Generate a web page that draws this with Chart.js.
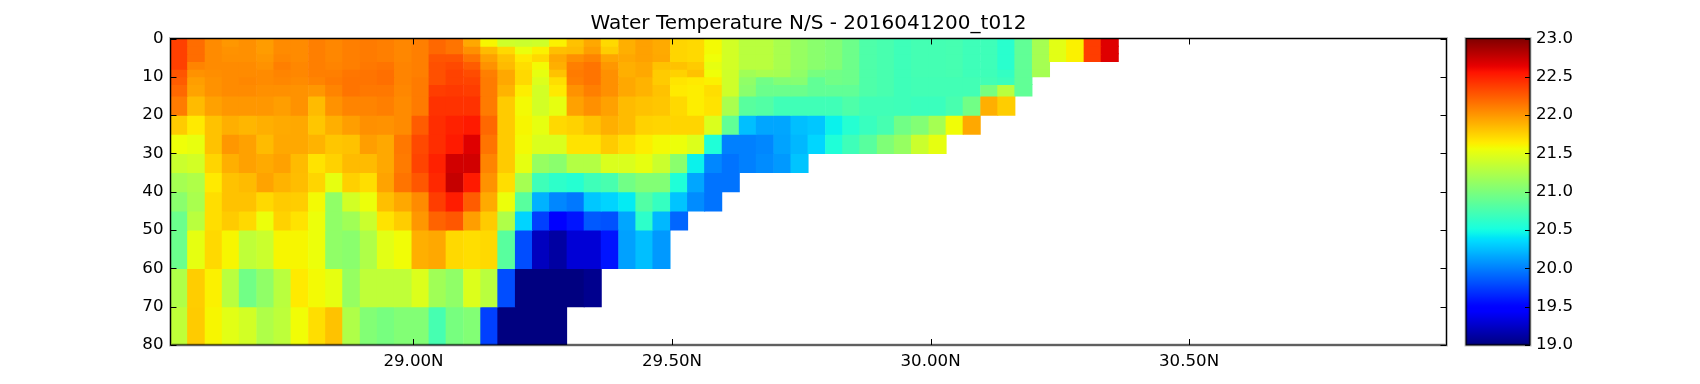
<!DOCTYPE html>
<html>
<head>
<meta charset="utf-8">
<title>Water Temperature N/S</title>
<script src="https://cdn.jsdelivr.net/npm/chart.js@4/dist/chart.umd.min.js"></script>
<style>
  html, body { margin: 0; padding: 0; background: #fff; }
  canvas { position: absolute; left: 0; top: 0; }
</style>
</head>
<body>
<canvas id="mainChart" width="1700" height="384"></canvas>
<canvas id="barChart" width="1700" height="384"></canvas>
<script>
const chartTitle = 'Water Temperature N/S - 2016041200_t012';

// left edge of every column, degrees north, one every 1/30 degree
const latEdges = [
  28.53, 28.563, 28.597, 28.63, 28.663, 28.697, 28.73, 28.763, 28.797, 28.83,
  28.863, 28.897, 28.93, 28.963, 28.997, 29.03, 29.063, 29.097, 29.13, 29.163,
  29.197, 29.23, 29.263, 29.297, 29.33, 29.363, 29.397, 29.43, 29.463, 29.497,
  29.53, 29.563, 29.597, 29.63, 29.663, 29.697, 29.73, 29.763, 29.797, 29.83,
  29.863, 29.897, 29.93, 29.963, 29.997, 30.03, 30.063, 30.097, 30.13, 30.163,
  30.197, 30.23, 30.263, 30.297, 30.33
];
const depthEdges = [0, 2, 4, 6, 8, 10, 12, 15, 20, 25, 30, 35, 40, 45, 50, 60, 70, 80];

const temp00 = [22.37,22.18,22.05,22.0,22.03,21.98,22.05,22.05,22.1,22.07,22.1,22.12,22.1,22.07,22.1,22.2,22.15,21.93,21.6,21.4,21.38,21.4,21.62,21.82,21.93,21.72,21.9,21.96,21.92,21.74,21.72,21.58,21.42,21.3,21.3,21.22,21.13,21.07,21.03,20.93,20.78,20.75,20.7,20.73,20.73,20.74,20.7,20.7,20.6,20.87,21.2,21.5,21.62,22.38,22.67];
const temp02 = [22.37,22.18,22.05,22.02,22.03,21.98,22.05,22.05,22.1,22.07,22.1,22.12,22.1,22.07,22.1,22.2,22.15,22.03,21.85,21.72,21.54,21.62,21.83,21.85,21.97,21.77,21.9,21.96,21.92,21.74,21.72,21.58,21.42,21.3,21.3,21.22,21.13,21.07,21.03,20.93,20.78,20.75,20.7,20.73,20.73,20.74,20.7,20.7,20.6,20.87,21.2,21.5,21.62,22.38,22.67];
const temp04 = [22.37,22.18,22.05,22.03,22.03,22.0,22.07,22.05,22.1,22.07,22.1,22.12,22.1,22.07,22.1,22.28,22.28,22.15,21.96,21.82,21.65,21.72,21.93,22.03,22.08,21.94,21.93,21.96,21.93,21.74,21.72,21.56,21.42,21.3,21.3,21.22,21.13,21.07,21.03,20.93,20.78,20.75,20.7,20.73,20.73,20.74,20.7,20.7,20.6,20.87,21.2,21.5,21.62,22.38,22.67];
const temp06 = [22.37,22.08,22.05,22.05,22.05,22.02,22.1,22.07,22.1,22.08,22.1,22.13,22.15,22.08,22.1,22.3,22.33,22.25,22.02,21.85,21.7,21.58,21.9,22.1,22.15,22.0,21.9,21.93,21.82,21.82,21.78,21.52,21.42,21.3,21.3,21.22,21.13,21.07,21.03,20.93,20.78,20.75,20.7,20.73,20.73,20.74,20.7,20.7,20.6,20.87,21.2];
const temp08 = [22.28,22.02,22.04,22.05,22.05,22.05,22.08,22.07,22.1,22.1,22.14,22.15,22.17,22.08,22.1,22.3,22.36,22.32,22.1,21.93,21.72,21.52,21.82,22.12,22.15,22.03,21.9,21.93,21.78,21.75,21.82,21.56,21.4,21.18,21.22,21.2,21.1,20.98,20.95,20.93,20.78,20.75,20.7,20.73,20.73,20.74,20.7,20.7,20.65,20.87,21.2];
const temp10 = [22.25,21.97,22.02,22.05,22.07,22.05,22.07,22.05,22.08,22.12,22.15,22.15,22.17,22.08,22.12,22.3,22.36,22.35,22.12,21.93,21.72,21.47,21.7,22.1,22.15,22.03,21.93,21.88,21.78,21.67,21.65,21.62,21.4,21.1,20.95,21.03,21.05,20.87,20.95,20.93,20.78,20.75,20.7,20.72,20.72,20.72,20.72,20.72,20.68,20.87];
const temp12 = [22.2,21.95,22.02,22.05,22.05,22.03,22.03,22.02,22.0,22.08,22.15,22.13,22.13,22.07,22.12,22.38,22.4,22.38,22.12,21.88,21.63,21.42,21.65,22.02,22.1,22.03,21.93,21.88,21.82,21.65,21.63,21.7,21.4,21.07,20.92,20.92,20.92,20.87,20.87,20.87,20.78,20.75,20.7,20.72,20.72,20.72,20.72,20.98,21.3,20.87];
const temp15 = [22.12,21.85,21.96,22.0,22.0,22.0,21.97,22.02,21.85,22.02,22.08,22.08,22.1,22.05,22.12,22.43,22.43,22.43,22.12,21.78,21.58,21.42,21.52,21.96,22.03,21.96,21.85,21.82,21.8,21.72,21.63,21.68,21.22,20.83,20.8,20.71,20.71,20.71,20.71,20.78,20.71,20.71,20.7,20.68,20.68,20.75,20.95,21.9,21.77];
const temp20 = [21.78,21.65,21.82,21.9,21.87,21.9,21.92,21.93,21.8,21.9,21.97,22.03,22.02,22.05,22.25,22.45,22.5,22.53,22.2,21.78,21.6,21.52,21.72,21.75,21.82,21.9,21.85,21.75,21.74,21.74,21.74,21.46,20.87,20.25,20.15,20.15,20.25,20.28,20.45,20.58,20.67,20.74,20.95,21.03,21.2,21.57,21.93];
const temp25 = [21.56,21.53,21.82,22.0,21.96,21.85,21.93,21.93,21.88,21.8,21.82,21.97,21.93,22.13,22.33,22.45,22.53,22.67,22.15,21.78,21.58,21.46,21.46,21.68,21.68,21.78,21.7,21.63,21.58,21.55,21.47,20.55,20.0,20.0,20.03,20.14,20.22,20.34,20.55,20.7,20.83,21.02,21.13,21.38,21.52];
const temp30 = [21.38,21.42,21.74,21.9,21.96,21.92,21.96,21.85,21.68,21.75,21.85,21.85,21.93,22.12,22.35,22.5,22.72,22.72,22.08,21.78,21.52,21.13,21.07,21.27,21.27,21.46,21.46,21.52,21.38,21.07,20.45,20.03,19.95,20.0,20.05,20.1,20.27];
const temp35 = [21.2,21.25,21.65,21.82,21.85,21.95,21.88,21.84,21.74,21.52,21.76,21.7,21.95,22.15,22.27,22.47,22.76,22.53,22.02,21.7,21.2,20.7,20.62,20.58,20.7,20.75,20.95,21.03,21.03,20.55,20.15,19.95,19.95];
const temp40 = [21.07,21.22,21.7,21.82,21.82,21.72,21.78,21.77,21.58,21.1,21.42,21.55,21.83,21.93,22.05,22.38,22.52,22.25,21.92,21.55,20.83,20.2,20.03,19.97,20.28,20.33,20.42,20.8,20.66,20.27,20.05,19.95];
const temp45 = [20.92,21.3,21.7,21.78,21.72,21.55,21.75,21.68,21.55,21.1,21.18,21.38,21.68,21.77,22.0,22.22,22.27,21.97,21.78,21.25,20.33,19.75,19.5,19.58,19.85,19.82,20.15,20.62,20.22,19.9];
const temp50 = [20.92,21.52,21.72,21.6,21.33,21.38,21.6,21.6,21.55,21.1,21.07,21.25,21.5,21.57,21.9,21.93,21.72,21.7,21.72,20.83,19.8,19.22,19.12,19.3,19.3,19.58,20.13,20.25,20.1];
const temp60 = [21.25,21.77,21.62,21.3,20.95,21.1,21.3,21.65,21.58,21.52,21.13,21.33,21.33,21.33,21.47,21.18,21.1,21.47,21.3,19.8,18.9,18.9,18.9,18.9,19.05];
const temp70 = [21.33,21.78,21.6,21.5,21.42,21.25,21.32,21.57,21.7,21.82,21.25,21.03,20.98,21.03,21.03,20.74,20.98,21.03,19.75,18.9,18.9,18.9,18.9];
const tempRows = [temp00, temp02, temp04, temp06, temp08, temp10, temp12, temp15, temp20, temp25, temp30, temp35, temp40, temp45, temp50, temp60, temp70];

const latTicks = [29, 29.5, 30, 30.5];
const depthTicks = [0, 10, 20, 30, 40, 50, 60, 70, 80];
const tempTicks = [19, 19.5, 20, 20.5, 21, 21.5, 22, 22.5, 23];
const tempMin = 19;
const tempMax = 23;

const tickFont = { family: '"DejaVu Sans"', size: 16.67 };
const cellWidth = 1 / 30;

// matplotlib's old default colormap
function seg(points, t) {
  for (let i = 1; i < points.length; i++) {
    if (t <= points[i][0]) {
      const a = points[i - 1], b = points[i];
      return a[1] + (b[1] - a[1]) * (t - a[0]) / (b[0] - a[0]);
    }
  }
  return points[points.length - 1][1];
}
function jet(t) {
  t = Math.min(1, Math.max(0, t));
  const r = seg([[0, 0], [0.35, 0], [0.66, 1], [0.89, 1], [1, 0.5]], t);
  const g = seg([[0, 0], [0.125, 0], [0.375, 1], [0.64, 1], [0.91, 0], [1, 0]], t);
  const b = seg([[0, 0.5], [0.11, 1], [0.34, 1], [0.65, 0], [1, 0]], t);
  return `rgb(${Math.round(r * 255)},${Math.round(g * 255)},${Math.round(b * 255)})`;
}
function tempColor(v) {
  return jet((v - tempMin) / (tempMax - tempMin));
}

function strokeFrame(ctx, a) {
  ctx.strokeStyle = 'rgba(0,0,0,0.25)';
  ctx.lineWidth = 3;
  ctx.strokeRect(a.left, a.top, a.right - a.left, a.bottom - a.top);
  ctx.strokeStyle = '#000';
  ctx.lineWidth = 1;
  ctx.strokeRect(a.left, a.top, a.right - a.left, a.bottom - a.top);
}

// frame and inward ticks, the way the old matplotlib style has them
const framePlugin = {
  id: 'frame',
  afterDatasetsDraw(chart) {
    const { ctx, chartArea: a, scales } = chart;
    ctx.save();
    ctx.strokeStyle = '#000';
    ctx.lineWidth = 1;
    ctx.beginPath();
    for (const id in scales) {
      const s = scales[id];
      for (const t of s.ticks) {
        const p = s.getPixelForValue(t.value);
        if (s.axis === 'x') {
          const x = Math.round(p) + 0.5;
          ctx.moveTo(x, a.bottom); ctx.lineTo(x, a.bottom - 6);
          ctx.moveTo(x, a.top); ctx.lineTo(x, a.top + 6);
        } else {
          const y = Math.round(p) + 0.5;
          ctx.moveTo(a.left, y); ctx.lineTo(a.left + 6, y);
          ctx.moveTo(a.right, y); ctx.lineTo(a.right - 6, y);
        }
      }
    }
    ctx.stroke();
    strokeFrame(ctx, a);
    ctx.restore();
  }
};

const cellDatasets = tempRows.map((temps, r) => ({
  label: depthEdges[r] + '-' + depthEdges[r + 1],
  data: temps.map((v, i) => ({ x: latEdges[i] + cellWidth / 2, y: [depthEdges[r], depthEdges[r + 1]], temp: v })),
  backgroundColor: c => tempColor(c.raw.temp),
  borderWidth: 0,
  inflateAmount: 0.5,
  grouped: false,
  barPercentage: 1,
  categoryPercentage: 1
}));

new Chart(document.getElementById('mainChart'), {
  type: 'bar',
  data: { datasets: cellDatasets },
  options: {
    responsive: false,
    animation: false,
    layout: { padding: { left: 110.5, right: 253.5, top: 0, bottom: 0 } },
    plugins: {
      legend: { display: false },
      tooltip: { enabled: false },
      title: {
        display: true,
        text: chartTitle,
        fullSize: false,
        color: '#000',
        font: { family: '"DejaVu Sans"', size: 20, weight: 'normal', lineHeight: 1.2 },
        padding: { top: 12, bottom: 2.5 }
      }
    },
    scales: {
      x: {
        type: 'linear',
        min: 28.53,
        max: 30.998,
        offset: false,
        grid: { display: false, drawTicks: false },
        border: { display: false },
        afterBuildTicks: s => { s.ticks = latTicks.map(v => ({ value: v })); },
        afterFit: s => { s.height = 39; },
        ticks: {
          autoSkip: false,
          maxRotation: 0,
          padding: 7,
          color: '#000',
          font: tickFont,
          callback: v => v.toFixed(2) + 'N'
        }
      },
      y: {
        type: 'linear',
        reverse: true,
        min: 0,
        max: 80,
        grid: { display: false, drawTicks: false },
        border: { display: false },
        afterBuildTicks: s => { s.ticks = depthTicks.map(v => ({ value: v })); },
        afterFit: s => { s.width = 60; },
        ticks: { padding: 7, color: '#000', font: tickFont }
      }
    }
  },
  plugins: [framePlugin]
});

new Chart(document.getElementById('barChart'), {
  type: 'bar',
  data: {
    labels: ['temp'],
    datasets: [{
      data: [[tempMin, tempMax]],
      borderWidth: 0,
      barPercentage: 1,
      categoryPercentage: 1,
      backgroundColor: c => {
        const a = c.chart.chartArea;
        if (!a) return '#000';
        const g = c.chart.ctx.createLinearGradient(0, a.bottom, 0, a.top);
        for (let i = 0; i <= 100; i++) g.addColorStop(i / 100, jet(i / 100));
        return g;
      }
    }]
  },
  options: {
    responsive: false,
    animation: false,
    layout: { padding: { left: 1466, right: 0, top: 38.5, bottom: 39 } },
    plugins: { legend: { display: false }, tooltip: { enabled: false }, title: { display: false } },
    scales: {
      x: { display: false },
      y: {
        position: 'right',
        min: tempMin,
        max: tempMax,
        grid: { display: false, drawTicks: false },
        border: { display: false },
        afterBuildTicks: s => { s.ticks = tempTicks.map(v => ({ value: v })); },
        afterFit: s => { s.width = 170; },
        ticks: {
          padding: 6,
          color: '#000',
          font: tickFont,
          callback: v => v.toFixed(1)
        }
      }
    }
  },
  plugins: [{
    id: 'barFrame',
    afterDatasetsDraw(chart) {
      const { ctx, chartArea: a, scales } = chart;
      ctx.save();
      ctx.strokeStyle = '#000';
      ctx.lineWidth = 1;
      ctx.beginPath();
      for (const t of scales.y.ticks) {
        const y = Math.round(scales.y.getPixelForValue(t.value)) + 0.5;
        ctx.moveTo(a.right, y); ctx.lineTo(a.right - 5, y);
      }
      ctx.stroke();
      strokeFrame(ctx, a);
      ctx.restore();
    }
  }]
});
</script>
</body>
</html>
